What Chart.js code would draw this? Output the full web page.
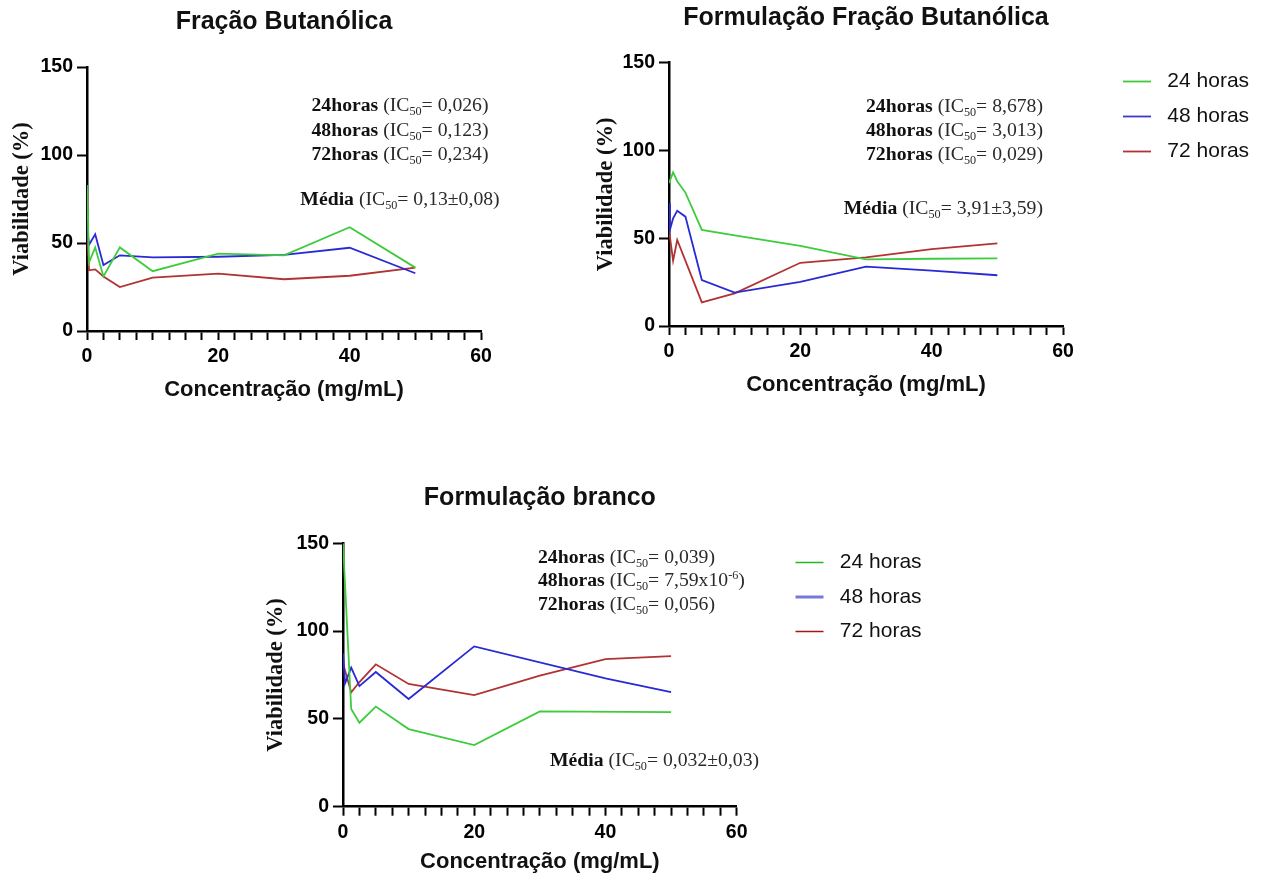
<!DOCTYPE html>
<html><head><meta charset="utf-8">
<script src="https://cdn.jsdelivr.net/npm/chart.js@4.4.1/dist/chart.umd.min.js"></script>
<style>
html,body{margin:0;padding:0;background:#fff;}
body{width:1269px;height:882px;position:relative;overflow:hidden;}
canvas{position:absolute;}
.ann{position:absolute;font-family:"Liberation Serif","Times New Roman",serif;font-size:19.7px;color:#2a2a2a;white-space:nowrap;line-height:1;}
.ann b{color:#111;}
.ann sub{font-size:0.62em;vertical-align:-0.3em;line-height:0;}
.ann sup{font-size:0.62em;vertical-align:0.55em;line-height:0;}
.c{transform:translate(-50%,-50%);}
.r{transform:translate(-100%,-50%);}
.l{transform:translate(0,-50%);}
</style></head>
<body>
<canvas id="c1" width="560" height="420" style="left:0;top:0"></canvas>
<canvas id="c2" width="689" height="420" style="left:580px;top:0"></canvas>
<canvas id="c3" width="700" height="412" style="left:250px;top:470px"></canvas>

<div class="ann c" style="left:400px;top:105px"><b>24horas</b> (IC<sub>50</sub>= 0,026)</div>
<div class="ann c" style="left:400px;top:130px"><b>48horas</b> (IC<sub>50</sub>= 0,123)</div>
<div class="ann c" style="left:400px;top:154px"><b>72horas</b> (IC<sub>50</sub>= 0,234)</div>
<div class="ann c" style="left:400px;top:199px"><b>Média</b> (IC<sub>50</sub>= 0,13±0,08)</div>

<div class="ann r" style="left:1043px;top:106px"><b>24horas</b> (IC<sub>50</sub>= 8,678)</div>
<div class="ann r" style="left:1043px;top:130px"><b>48horas</b> (IC<sub>50</sub>= 3,013)</div>
<div class="ann r" style="left:1043px;top:154px"><b>72horas</b> (IC<sub>50</sub>= 0,029)</div>
<div class="ann r" style="left:1043px;top:208px"><b>Média</b> (IC<sub>50</sub>= 3,91±3,59)</div>

<div class="ann l" style="left:538px;top:557px"><b>24horas</b> (IC<sub>50</sub>= 0,039)</div>
<div class="ann l" style="left:538px;top:580px"><b>48horas</b> (IC<sub>50</sub>= 7,59x10<sup>-6</sup>)</div>
<div class="ann l" style="left:538px;top:604px"><b>72horas</b> (IC<sub>50</sub>= 0,056)</div>
<div class="ann l" style="left:550px;top:760px"><b>Média</b> (IC<sub>50</sub>= 0,032±0,03)</div>

<script>
// ---------- DATA ----------
const seriesLabels = ['24 horas', '48 horas', '72 horas'];
const xTickLabels = [0, 20, 40, 60];
const yTickLabels = [0, 50, 100, 150];

// Fração Butanólica
const fbConc = [0, 0.3125, 0.625, 1.25, 2.5, 5, 10, 20, 30, 40, 50];
const fb24 = [83, 39, null, 47.5, 31, 47.5, 34, 44, 43, 59, 36];
const fb48 = [60, 49, null, 55, 37.5, 43, 41.8, 42.2, 43.2, 47.3, 32.8];
const fb72 = [58, 34.5, null, 35, 31, 25, 30.3, 32.6, 29.4, 31.4, 36];

// Formulação Fração Butanólica
const ffbConc = [0, 0.15, 0.625, 1.25, 2.5, 5, 10, 20, 30, 40, 50];
const ffb24 = [81.4, null, 87.5, 82.5, 76, 54.7, 51.6, 45.6, 38, 38.3, 38.5];
const ffb48 = [70, 55, 61.3, 65.6, 62.3, 26.2, 19, 25.2, 33.8, 31.5, 28.9];
const ffb72 = [54.7, null, 37.2, 49, null, 13.5, 18.6, 36, 39.1, 43.8, 47.1];

// Formulação branco
const brConc = [0, 0.3125, 1.25, 2.5, 5, 10, 20, 30, 40, 50];
const br24 = [150, null, 55.6, 47.8, 57, 44.2, 35.1, 54.3, null, 53.9];
const br48 = [87.3, 70.2, 79.2, 68.7, 76.7, 61.3, 91.3, null, 73.1, 65.3];
const br72 = [81.7, null, 65.1, 71, 81.1, 69.9, 63.6, 74.6, 84.1, 85.8];

// ---------- STYLE ----------
const lineColors = ['#3ecb3e', '#2a2ad4', '#b23333'];
const SANS = "'Liberation Sans', Arial, sans-serif";
const SERIF = "'Liberation Serif', 'Times New Roman', serif";
Chart.defaults.color = '#000';

function pts(xs, ys) { return xs.map((x, i) => ({x: x, y: ys[i]})); }

const legendPos = {
  id: 'legendPos',
  afterLayout(chart, args, o) {
    const lg = chart.legend;
    if (!lg || !o || o.x == null) return;
    lg.left = o.x; lg.top = o.y; lg.width = 220; lg.height = 160;
    lg.right = o.x + 220; lg.bottom = o.y + 160;
  }
};

function makeChart(id, title, xs, sets, g) {
  const datasets = sets.map((s, i) => ({
    label: seriesLabels[i],
    data: pts(xs, s),
    borderColor: lineColors[i],
    backgroundColor: lineColors[i],
    borderWidth: 1.8,
    pointRadius: 0,
    tension: 0,
    spanGaps: true
  }));
  const legendCfg = g.legend ? {
    display: true, position: 'chartArea', align: 'start',
    labels: {
      usePointStyle: true, pointStyle: 'line', pointStyleWidth: 28,
      padding: g.legend.pad, color: '#111',
      font: {family: SANS, size: 21},
      generateLabels(chart) {
        const items = Chart.defaults.plugins.legend.labels.generateLabels(chart);
        items.forEach((it, i) => {
          it.strokeStyle = g.legend.colors[i]; it.lineWidth = g.legend.widths[i];
          it.text = ' ' + it.text;
        });
        return items;
      }
    }
  } : {display: false};
  return new Chart(document.getElementById(id), {
    type: 'line',
    data: {datasets},
    plugins: [legendPos],
    options: {
      responsive: false, animation: false, events: [],
      layout: {padding: {left: 0, top: 0, right: g.padR, bottom: g.padB}},
      plugins: {
        legend: legendCfg,
        legendPos: g.legend ? {x: g.legend.x, y: g.legend.y} : {},
        tooltip: {enabled: false},
        title: {
          display: true, text: title, fullSize: false, color: '#111',
          font: {family: SANS, size: 25, weight: 'bold'},
          padding: {top: g.tT, bottom: g.tB}
        }
      },
      scales: {
        x: {
          type: 'linear', min: 0, max: 60,
          afterFit(s) { s.height = 75; },
          afterBuildTicks(s) {
            const t = []; for (let v = 0; v <= 60; v += 2.5) t.push({value: v}); s.ticks = t;
          },
          ticks: {
            autoSkip: false, maxRotation: 0, padding: 5,
            font: {family: SANS, size: 19.5, weight: 'bold'},
            callback: (v) => xTickLabels.includes(v) ? String(v) : ''
          },
          grid: {display: true, drawOnChartArea: false, drawTicks: true, tickLength: 9, tickWidth: 2, tickColor: '#000'},
          border: {display: true, color: '#000', width: 2.5},
          title: {
            display: true, text: 'Concentração (mg/mL)', color: '#111',
            font: {family: SANS, size: 22, weight: 'bold'},
            padding: {top: 0, bottom: g.xtB}
          }
        },
        y: {
          min: 0, max: 150,
          afterFit(s) { s.width = g.yW; },
          afterBuildTicks(s) { s.ticks = yTickLabels.map(v => ({value: v})); },
          ticks: {padding: 4, font: {family: SANS, size: 19.5, weight: 'bold'}},
          grid: {display: true, drawOnChartArea: false, drawTicks: true, tickLength: 10, tickWidth: 2, tickColor: '#000'},
          border: {display: true, color: '#000', width: 2.5},
          title: {
            display: true, text: 'Viabilidade (%)', color: '#111',
            font: {family: SERIF, size: 22.5, weight: 'bold'},
            padding: {top: g.ytT, bottom: 0}
          }
        }
      }
    }
  });
}

makeChart('c1', 'Fração Butanólica', fbConc, [fb24, fb48, fb72],
  {padR: 79, padB: 14, tT: 7, tB: 30, yW: 87, xtB: 2.8, ytT: 8.5, legend: null});

makeChart('c2', 'Formulação Fração Butanólica', ffbConc, [ffb24, ffb48, ffb72],
  {padR: 206, padB: 19, tT: 3, tB: 29.7, yW: 89, xtB: 2.8, ytT: 12.5,
   legend: {x: 529, y: 57, pad: 14, colors: ['#3ecb3e', '#3a3ad0', '#b23333'], widths: [1.8, 1.8, 1.8]}});

makeChart('c3', 'Formulação branco', brConc, [br24, br48, br72],
  {padR: 213.3, padB: 0.3, tT: 13, tB: 30.3, yW: 93, xtB: 6.5, ytT: 12.5,
   legend: {x: 532, y: 68.5, pad: 13.5, colors: ['#22b922', '#7777dd', '#a81616'], widths: [1.6, 3, 1.6]}});
</script>
</body></html>
